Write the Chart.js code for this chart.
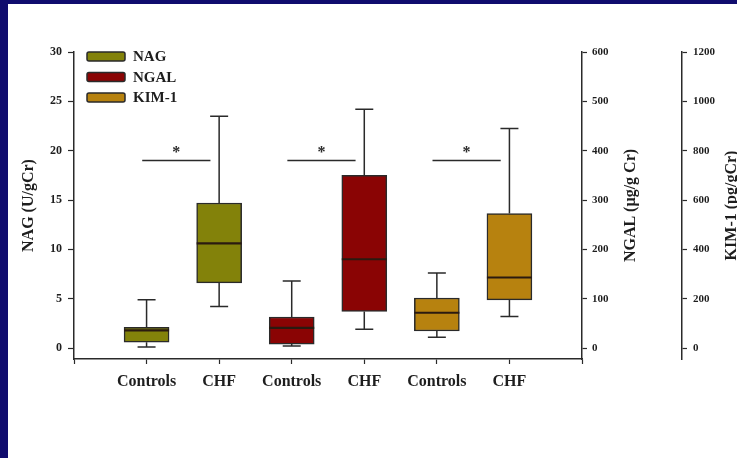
<!DOCTYPE html>
<html>
<head>
<meta charset="utf-8">
<script src="https://cdn.jsdelivr.net/npm/chart.js@4/dist/chart.umd.min.js"></script>
<style>
  html, body { margin: 0; padding: 0; width: 737px; height: 458px; overflow: hidden; background: #100c6e; }
  #wrap { position: absolute; left: 8px; top: 4px; width: 760px; height: 454px; background: #ffffff; }
  canvas { display: block; }
</style>
</head>
<body>
<div id="wrap"><canvas id="c" width="760" height="454" style="width:760px;height:454px"></canvas></div>
<script>
// x positions: blank slots at both ends frame the six groups
const categories = ['', 'Controls', 'CHF', 'Controls', 'CHF', 'Controls', 'CHF', ''];
const markers = ['NAG', 'NGAL', 'KIM-1'];

// five-number summaries: [min, Q1, median, Q3, max]
const nagControls  = [0.1, 0.6, 1.8, 2.1, 4.9];
const nagCHF       = [4.2, 6.6, 10.6, 14.7, 23.5];
const ngalControls = [4, 8, 41, 63, 136];
const ngalCHF      = [38, 74, 180, 350, 484];
const kimControls  = [44, 69, 143, 203, 304];
const kimCHF       = [128, 195, 286, 545, 890];

// tick values of the three value axes
const nagTicks  = [0, 5, 10, 15, 20, 25, 30];
const ngalTicks = [0, 100, 200, 300, 400, 500, 600];
const kimTicks  = [0, 200, 400, 600, 800, 1000, 1200];

// significance brackets: [Controls slot, CHF slot], drawn at a height on the NAG axis
const sigPairs = [[1, 2], [3, 4], [5, 6]];
const sigLevel = 19;

const colors = ['#83820a', '#8a0404', '#b7820f'];
const ink = '#2a2a2a';
const serif = '"Liberation Serif", "Times New Roman", serif';

function boxDataset(label, axis, color, slots) {
  const data = categories.map(() => null);
  const stats = categories.map(() => null);
  slots.forEach(([slot, s]) => { data[slot] = [s[1], s[3]]; stats[slot] = s; });
  return {
    label, yAxisID: axis, data, boxStats: stats,
    backgroundColor: color, borderColor: ink, borderWidth: 1.5, borderSkipped: false
  };
}

const datasets = [
  boxDataset(markers[0], 'y',  colors[0], [[1, nagControls],  [2, nagCHF]]),
  boxDataset(markers[1], 'y2', colors[1], [[3, ngalControls], [4, ngalCHF]]),
  boxDataset(markers[2], 'y3', colors[2], [[5, kimControls],  [6, kimCHF]])
];

function tickSetter(values) {
  return scale => { scale.ticks = values.map(v => ({ value: v })); };
}
function tickFont(size) {
  return { color: '#1e1e1e', font: { family: serif, weight: 'bold', size }, callback: v => String(v) };
}
function valueAxis(position, values, extra) {
  const top = values[values.length - 1];
  return Object.assign({
    position,
    min: -top * 0.037,
    max: top,
    afterBuildTicks: tickSetter(values),
    ticks: Object.assign(tickFont(11), { padding: 5 }),
    grid: { drawOnChartArea: false, drawTicks: true, tickLength: 5, tickColor: ink, tickWidth: 1.2 },
    border: { display: true, color: ink, width: 1.5 }
  }, extra);
}

// whiskers, caps and medians for each floating box
const whiskerPlugin = {
  id: 'whiskers',
  afterDatasetsDraw(chart) {
    const ctx = chart.ctx;
    chart.data.datasets.forEach((ds, d) => {
      const meta = chart.getDatasetMeta(d);
      const ys = chart.scales[ds.yAxisID];
      ds.boxStats.forEach((s, i) => {
        if (!s) return;
        const bar = meta.data[i];
        const x = bar.x, half = bar.width / 2, cap = 9;
        const [yMin, yQ1, yMed, yQ3, yMax] = s.map(v => ys.getPixelForValue(v));
        ctx.save();
        ctx.strokeStyle = ink;
        ctx.lineWidth = 1.5;
        ctx.beginPath();
        ctx.moveTo(x, yQ3); ctx.lineTo(x, yMax);
        ctx.moveTo(x - cap, yMax); ctx.lineTo(x + cap, yMax);
        ctx.moveTo(x, yQ1); ctx.lineTo(x, yMin);
        ctx.moveTo(x - cap, yMin); ctx.lineTo(x + cap, yMin);
        ctx.stroke();
        ctx.lineWidth = 2.2;
        ctx.strokeStyle = '#2a1a10';
        ctx.beginPath();
        ctx.moveTo(x - half, yMed); ctx.lineTo(x + half, yMed);
        ctx.stroke();
        ctx.restore();
      });
    });
  }
};

// significance lines with asterisks
const sigPlugin = {
  id: 'significance',
  afterDatasetsDraw(chart) {
    const ctx = chart.ctx;
    const xs = chart.scales.x, ys = chart.scales.y;
    const y = ys.getPixelForValue(sigLevel);
    sigPairs.forEach(([a, b]) => {
      const x1 = xs.getPixelForValue(a - 0.06);
      const x2 = xs.getPixelForValue(b - 0.12);
      ctx.save();
      ctx.strokeStyle = ink;
      ctx.lineWidth = 1.5;
      ctx.beginPath(); ctx.moveTo(x1, y); ctx.lineTo(x2, y); ctx.stroke();
      ctx.fillStyle = ink;
      ctx.font = 'bold 16px ' + serif;
      ctx.textAlign = 'center';
      ctx.textBaseline = 'alphabetic';
      ctx.fillText('*', (x1 + x2) / 2, y - 4);
      ctx.restore();
    });
  }
};

// vertical titles of the right-hand axes, reading upward
const rightTitlePlugin = {
  id: 'rightTitles',
  afterDraw(chart) {
    const ctx = chart.ctx;
    [['y2', 49], ['y3', 50]].forEach(([id, off]) => {
      const s = chart.scales[id];
      ctx.save();
      ctx.translate(s.left + off, (s.top + s.bottom) / 2);
      ctx.rotate(-Math.PI / 2);
      ctx.fillStyle = '#1e1e1e';
      ctx.font = 'bold 16px ' + serif;
      ctx.textAlign = 'center';
      ctx.textBaseline = 'middle';
      ctx.fillText(s.options.title.text, 0, 0);
      ctx.restore();
    });
  }
};

// legend inside the plot, top left
const legendPlugin = {
  id: 'boxLegend',
  afterDraw(chart) {
    const ctx = chart.ctx, area = chart.chartArea;
    const x0 = area.left + 13, y0 = area.top + 4.5;
    chart.data.datasets.forEach((ds, i) => {
      const y = y0 + i * 20.5;
      ctx.save();
      ctx.fillStyle = ds.backgroundColor;
      ctx.strokeStyle = ink;
      ctx.lineWidth = 1.5;
      ctx.beginPath();
      ctx.roundRect(x0, y - 4.5, 38, 9, 2);
      ctx.fill(); ctx.stroke();
      ctx.fillStyle = '#1e1e1e';
      ctx.font = 'bold 15px ' + serif;
      ctx.textAlign = 'left';
      ctx.textBaseline = 'middle';
      ctx.fillText(ds.label, x0 + 46, y + 1);
      ctx.restore();
    });
  }
};

new Chart(document.getElementById('c'), {
  type: 'bar',
  data: { labels: categories, datasets },
  options: {
    responsive: false,
    animation: false,
    devicePixelRatio: 1,
    grouped: false,
    barThickness: 45,
    layout: { padding: { top: 48, left: 0, right: 0, bottom: 0 } },
    plugins: { legend: { display: false }, tooltip: { enabled: false } },
    scales: {
      x: {
        type: 'category',
        offset: false,
        afterFit: s => { s.height = 99; },
        ticks: { color: '#1e1e1e', font: { family: serif, weight: 'bold', size: 16 }, padding: 8, autoSkip: false, maxRotation: 0 },
        grid: { offset: false, drawOnChartArea: false, drawTicks: true, tickLength: 5, tickColor: ink, tickWidth: 1.2 },
        border: { display: true, color: ink, width: 1.5 }
      },
      y: valueAxis('left', nagTicks, {
        afterFit: s => { s.width = 66; },
        ticks: Object.assign(tickFont(12), { padding: 6 }),
        grid: { drawOnChartArea: false, drawTicks: true, tickLength: 6, tickColor: ink, tickWidth: 1.2 },
        title: { display: true, text: 'NAG (U/gCr)', color: '#1e1e1e', font: { family: serif, weight: 'bold', size: 16 }, padding: { top: 11, bottom: 0 } }
      }),
      y2: valueAxis('right', ngalTicks, {
        weight: 0,
        afterFit: s => { s.width = 100; },
        title: { display: false, text: 'NGAL (µg/g Cr)' }
      }),
      y3: valueAxis('right', kimTicks, {
        weight: 1,
        afterFit: s => { s.width = 86; },
        ticks: Object.assign(tickFont(11), { padding: 6 }),
        title: { display: false, text: 'KIM-1 (pg/gCr)' }
      })
    }
  },
  plugins: [whiskerPlugin, sigPlugin, rightTitlePlugin, legendPlugin]
});
</script>
</body>
</html>
